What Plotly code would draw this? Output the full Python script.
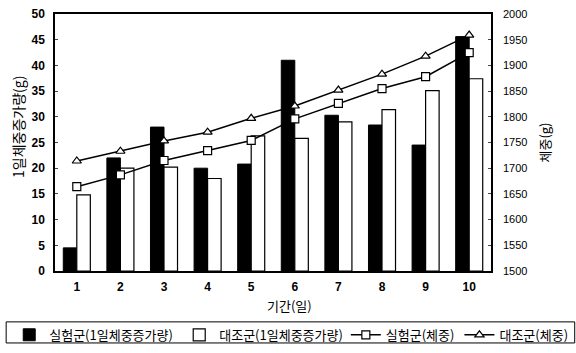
import plotly.graph_objects as go

days = [1, 2, 3, 4, 5, 6, 7, 8, 9, 10]
exp_gain = [4.5, 22.0, 28.0, 20.0, 20.8, 41.0, 30.3, 28.4, 24.5, 45.6]
ctl_gain = [14.8, 20.0, 20.2, 18.0, 26.3, 25.8, 29.0, 31.4, 35.1, 37.4]
exp_weight = [1664, 1687, 1715, 1734, 1754, 1796, 1826, 1855, 1878, 1925]
ctl_weight = [1714, 1733, 1753, 1770, 1797, 1821, 1852, 1883, 1918, 1959]

names = ["실험군(1일체중증가량)", "대조군(1일체중증가량)", "실험군(체중)", "대조군(체중)"]
x_title = "기간(일)"
y_title = "1일체중증가량(g)"
y2_title = "체중(g)"
ko = "Noto Sans CJK KR"
num = "Liberation Sans"

fig = go.Figure()
fig.add_trace(go.Bar(x=days, y=exp_gain, name=names[0], legend="legend",
                     marker=dict(color="black", line=dict(color="black", width=1))))
fig.add_trace(go.Bar(x=days, y=ctl_gain, name=names[1], legend="legend",
                     marker=dict(color="white", line=dict(color="black", width=1.2))))
fig.add_trace(go.Scatter(x=days, y=exp_weight, name=names[2], yaxis="y2", legend="legend2",
                         mode="lines+markers", line=dict(color="black", width=1.5),
                         marker=dict(symbol="square", size=8, color="white", line=dict(color="black", width=1.2))))
fig.add_trace(go.Scatter(x=days, y=ctl_weight, name=names[3], yaxis="y2", legend="legend2",
                         mode="lines+markers", line=dict(color="black", width=1.5),
                         marker=dict(symbol="triangle-up", size=8, color="white", line=dict(color="black", width=1.2))))

leg_common = dict(orientation="h", yanchor="top", y=-0.19, borderwidth=0, bgcolor="rgba(0,0,0,0)",
                  font=dict(family=ko, size=13), itemwidth=30, tracegroupgap=0)

fig.update_layout(
    width=576, height=353,
    margin=dict(l=55, r=85, t=14, b=82, autoexpand=False),
    plot_bgcolor="white", paper_bgcolor="white",
    barmode="group", bargap=0.38, bargroupgap=0,
    font=dict(family=num, size=13, color="black"),
    showlegend=True,
    legend=dict(x=-0.105, xanchor="left", entrywidth=125, **leg_common),
    legend2=dict(x=1.19, xanchor="right", **leg_common),
    shapes=[dict(type="rect", xref="paper", yref="paper", x0=-0.112, x1=1.192, y0=-0.198, y1=-0.28,
                 line=dict(color="black", width=1), fillcolor="rgba(0,0,0,0)")],
    annotations=[
        dict(text=x_title, xref="paper", yref="paper", x=0.537, y=-0.136, xanchor="center",
             yanchor="middle", showarrow=False, font=dict(family=ko, size=13)),
        dict(text=y_title, xref="paper", yref="paper", x=-0.085, y=0.56, xanchor="center",
             yanchor="middle", textangle=-90, showarrow=False, font=dict(family=ko, size=14)),
    ],
    xaxis=dict(tickmode="array", tickvals=days, ticktext=[str(d) for d in days],
               range=[0.5, 10.5], showline=True, linecolor="black", linewidth=1.5, mirror=True,
               ticks="", tickfont=dict(family=num, size=12, weight="bold"), ticklabelstandoff=4),
    yaxis=dict(range=[0, 50], dtick=5, showgrid=False, showline=True, linecolor="black", linewidth=1.5,
               ticks="inside", ticklen=3, tickfont=dict(family=num, size=12, weight="bold"),
               ticklabelstandoff=6, zeroline=False),
    yaxis2=dict(range=[1500, 2000], dtick=50, overlaying="y", side="right", showgrid=False,
                showline=True, linecolor="black", linewidth=1.5, ticks="inside", ticklen=3,
                tickfont=dict(family=num, size=11), ticklabelstandoff=8,
                title=dict(text=y2_title, font=dict(family=ko, size=13), standoff=14),
                zeroline=False),
)

fig.write_html("out.html", config={"displayModeBar": False},
               post_script="document.body.style.margin='0';")
